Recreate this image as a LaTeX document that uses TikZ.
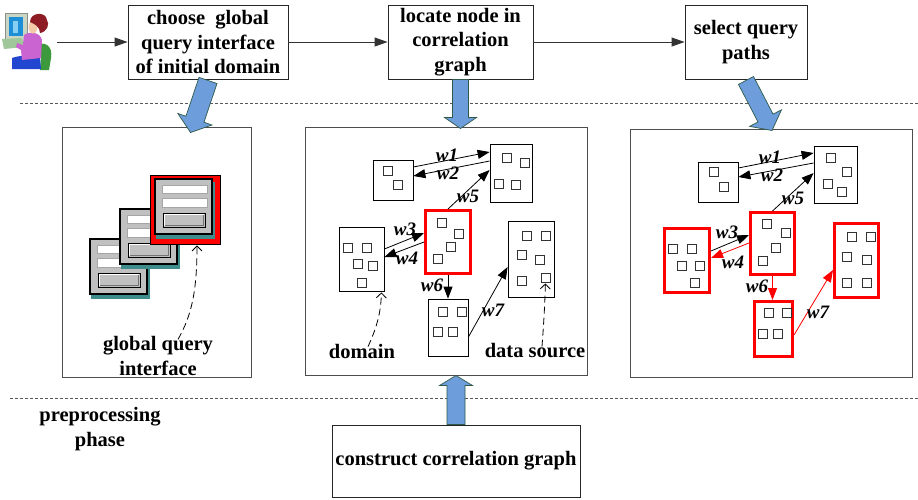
\documentclass[tikz,border=0pt]{standalone}
\usepackage{fontspec}
\setmainfont{Liberation Serif}
\usetikzlibrary{calc,arrows.meta}

\definecolor{blk}{HTML}{6E9DDB}
\definecolor{blkedge}{HTML}{2F5A4A}
\definecolor{frame}{HTML}{4D4D4D}
\definecolor{shadowteal}{HTML}{3F8C8C}
\definecolor{wingray}{HTML}{C0C0C0}
\definecolor{chairg}{HTML}{3C9A3C}
\definecolor{monbody}{HTML}{C9D6C4}
\definecolor{screenb}{HTML}{1E8FD6}
\definecolor{screenl}{HTML}{86CFF2}
\definecolor{deskg}{HTML}{9FC79A}
\definecolor{pantsb}{HTML}{2346D0}
\definecolor{shirtp}{HTML}{C964D0}
\definecolor{skin}{HTML}{F4CBA8}
\definecolor{hair}{HTML}{8E1C24}

\tikzset{
  txt/.style={font=\bfseries\fontsize{20.5}{24.5}\selectfont, align=center, inner sep=0pt},
  proc/.style={draw=black!85, line width=0.9pt, fill=white, txt},
  panel/.style={draw=frame, line width=1pt, fill=white},
  gnode/.style={draw=black, line width=0.8pt, inner sep=0pt},
  hot/.style={draw=red, line width=3pt, inner sep=0pt},
  sq/.style={draw=black!80, line width=0.7pt},
  edge/.style={line width=0.8pt, -{Triangle[length=12pt,width=9pt]}},
  redge/.style={edge, red},
  wlab/.style={font=\bfseries\itshape\fontsize{19}{22}\selectfont, inner sep=0pt},
  flow/.style={draw=black!80, line width=0.9pt, -{Triangle[length=13pt,width=9pt]}},
  sep/.style={draw=black!65, line width=0.8pt, dash pattern=on 3pt off 2pt},
  pointer/.style={line width=0.8pt, dash pattern=on 7pt off 4pt, -{Straight Barb[length=5pt,width=10pt]}},
  blockar/.style={fill=blk, draw=blkedge, line width=0.7pt},
}

% small square of a graph node, given by its top-left corner
\newcommand\sqbox[2]{\draw[sq] (#1,#2) rectangle ++(9,9);}

% block arrow: tail, tip, half shaft width, half head width, head length
\newcommand\blockarrow[5]{%
  \coordinate (bh) at ($(#2)!#5!(#1)$);
  \path[blockar] ($(#1)!#3!90:(#2)$) -- ($(bh)!#3!90:(#2)$) -- ($(bh)!#4!90:(#2)$)
    -- (#2) -- ($(bh)!#4!-90:(#2)$) -- ($(bh)!#3!-90:(#2)$) -- ($(#1)!#3!-90:(#2)$) -- cycle;}

% form window with shadow, given by its top-left corner
\newcommand\guiwin[2]{%
  \fill[shadowteal] (#1+1,#2+3) rectangle (#1+60,#2+60);
  \draw[fill=wingray, line width=1.2pt] (#1,#2) rectangle (#1+57,#2+55);
  \draw[fill=white, draw=black!35, line width=0.8pt] (#1+7,#2+6) rectangle (#1+52,#2+14);
  \draw[fill=white, draw=black!35, line width=0.8pt] (#1+7,#2+19) rectangle (#1+52,#2+28);
  \draw[fill=wingray, line width=0.8pt] (#1+8,#2+34) rectangle (#1+50,#2+48);
  \draw[white, line width=0.8pt] (#1+9.5,#2+46.5) -- (#1+9.5,#2+35.5) -- (#1+48.5,#2+35.5);
  \draw[black!55, line width=0.8pt] (#1+9.5,#2+46.5) -- (#1+48.5,#2+46.5) -- (#1+48.5,#2+35.5);}

\begin{document}
\begin{tikzpicture}[x=1pt,y=-1pt]
\useasboundingbox[fill=white] (0,0) rectangle (918,499);

% ---------- user at the computer ----------
\node[minimum width=52pt, minimum height=58pt, inner sep=0pt] (user) at (31,42) {};
\fill[chairg] (35,46) .. controls (45,40) and (53,46) .. (51,58) -- (49,70) -- (40,70) -- (41,58) .. controls (41,52) and (38,49) .. (35,46) -- cycle;
\fill[monbody] (5,13) rectangle (27,42);
\draw[black!45, line width=0.4pt] (5,13) rectangle (27,42);
\fill[screenb] (9,17) rectangle (23,36);
\fill[screenl] (13,21) rectangle (18,33);
\fill[deskg] (2,39) -- (22,38) -- (24,47) -- (4,49) -- cycle;
\fill[pantsb] (12,58) .. controls (20,55) and (32,55) .. (40,57) -- (41,69) -- (12,69) -- cycle;
\fill[shirtp] (24,35) .. controls (30,31) and (40,32) .. (42,40) -- (41,58) -- (22,60) -- (21,50) -- (16,47) -- (17,43) -- (23,45) -- cycle;
\fill[skin] (33,27) ellipse [x radius=4.5, y radius=6.5];
\fill[hair] (30,22) .. controls (30,12) and (46,11) .. (47,20) .. controls (50,24) and (47,32) .. (40,33) .. controls (40,27) and (35,24) .. (30,22) -- cycle;

% ---------- process steps ----------
\node[proc, minimum width=160pt, minimum height=74pt] (box1) at (208,42)
  {choose\ \ global\\query interface\\of initial domain};
\node[proc, minimum width=145pt, minimum height=74pt] (box2) at (460.5,42)
  {locate node in\\correlation\\graph};
\node[proc, minimum width=122pt, minimum height=74pt] (box3) at (746,42)
  {select query\\paths};
\node[proc, minimum width=248pt, minimum height=72pt] (build) at (456,461)
  {construct correlation graph};

\draw[flow] (user.east) -- (box1.west);
\draw[flow] (box1.east) -- (box2.west);
\draw[flow] (box2.east) -- (box3.west);

% phase separators
\draw[sep] (20,103) -- (918,103);
\draw[sep] (10,398) -- (918,398);

\node[txt] (phase) at (100,429) {preprocessing\\phase};

% ---------- panels ----------
\node[panel, minimum width=189pt, minimum height=250pt] (panel1) at (156.5,252) {};
\node[panel, minimum width=282pt, minimum height=248pt] (panel2) at (446,251) {};
\node[panel, minimum width=282pt, minimum height=248pt] (panel3) at (771,253) {};

% ---------- panel 1: global query interfaces ----------
\guiwin{90}{239}
\guiwin{120}{209}
\node[draw=black, fill=red, line width=0.8pt, minimum width=70pt, minimum height=69pt, inner sep=0pt] (gqiframe) at (185,209.5) {};
\guiwin{155}{179}
\node[txt] (gqilabel) at (158,356) {global query\\interface};
\draw[pointer] ($(gqilabel.north)+(20,3)$) .. controls (192,315) and (197,290) .. ($(gqiframe.south)+(12,1)$);

% ---------- panel 2: correlation graph ----------
\node[gnode, minimum width=40pt, minimum height=40pt] (A2) at (393,180) {};
\node[gnode, minimum width=42pt, minimum height=58pt] (B2) at (511,173) {};
\node[hot,   minimum width=45pt, minimum height=63pt] (C2) at (448,242) {};
\node[gnode, minimum width=45pt, minimum height=64pt] (D2) at (361.5,259) {};
\node[gnode, minimum width=40pt, minimum height=57pt] (E2) at (448,327.5) {};
\node[gnode, minimum width=46pt, minimum height=76pt] (F2) at (531,259) {};

\sqbox{383}{166}\sqbox{393}{180}
\sqbox{502}{153}\sqbox{520}{158}\sqbox{494}{179}\sqbox{511}{180}
\sqbox{437}{218}\sqbox{454}{229}\sqbox{446}{242}\sqbox{433}{254}
\sqbox{343}{243}\sqbox{362}{243}\sqbox{353}{259}\sqbox{368}{261}\sqbox{357}{278}
\sqbox{438}{307}\sqbox{457}{307}\sqbox{433}{327}\sqbox{448}{327}
\sqbox{522}{231}\sqbox{541}{231}\sqbox{517}{250}\sqbox{535}{255}\sqbox{517}{276}\sqbox{541}{273}

\draw[edge] ($(A2.east)+(0,-13)$) -- ($(B2.west)+(0,-21)$);
\draw[edge] ($(B2.west)+(0,-12)$) -- ($(A2.east)+(0,-4)$);
\draw[edge] (C2.north) -- ($(B2.west)+(0,-3)$);
\draw[edge] ($(D2.east)+(0,-10)$) -- ($(C2.west)+(0,-9)$);
\draw[edge] (C2.west) -- ($(D2.east)+(0,-2)$);
\draw[edge] (C2.south) -- (C2.south |- E2.north);
\draw[edge] ($(E2.east)+(0,9.5)$) -- ($(F2.west)+(0,8)$);

\node[wlab] (p2w1) at (447,155) {w1};
\node[wlab] (p2w2) at (448,173) {w2};
\node[wlab] (p2w5) at (468,196) {w5};
\node[wlab] (p2w3) at (405,229) {w3};
\node[wlab] (p2w4) at (407,258) {w4};
\node[wlab] (p2w6) at (432,285) {w6};
\node[wlab] (p2w7) at (493,310) {w7};

\node[txt] (dom) at (362,351) {domain};
\node[txt] (dsrc) at (535,351) {data source};
\draw[pointer] ($(dom.north)+(6,3)$) .. controls (378,325) and (381,310) .. ($(D2.south east)+(-3,1)$);
\draw[pointer] ($(dsrc.north)+(7,3)$) .. controls (544,320) and (545,300) .. ($(F2.south east)+(-9,-14)$);

% ---------- panel 3: selected query paths ----------
\node[gnode, minimum width=40pt, minimum height=40pt] (A3) at (718,182) {};
\node[gnode, minimum width=43pt, minimum height=57pt] (B3) at (835.5,174.5) {};
\node[hot,   minimum width=44pt, minimum height=62pt] (C3) at (772.5,243.5) {};
\node[hot,   minimum width=45pt, minimum height=64pt] (D3) at (687,260.5) {};
\node[hot,   minimum width=38pt, minimum height=55pt] (E3) at (773.5,329) {};
\node[hot,   minimum width=44pt, minimum height=74pt] (F3) at (856.5,260.5) {};

\sqbox{709}{167}\sqbox{719}{182}
\sqbox{826}{153}\sqbox{842}{167}\sqbox{823}{179}\sqbox{837}{187}
\sqbox{762}{219}\sqbox{781}{228}\sqbox{771}{243}\sqbox{758}{256}
\sqbox{668}{244}\sqbox{687}{244}\sqbox{677}{261}\sqbox{695}{261}\sqbox{690}{278}
\sqbox{764}{308}\sqbox{782}{308}\sqbox{758}{329}\sqbox{773}{329}
\sqbox{847}{232}\sqbox{866}{232}\sqbox{842}{252}\sqbox{862}{255}\sqbox{842}{278}\sqbox{862}{278}

\draw[edge] ($(A3.east)+(0,-14)$) -- ($(B3.west)+(0,-21.5)$);
\draw[edge] ($(B3.west)+(0,-11.5)$) -- ($(A3.east)+(0,-5)$);
\draw[edge] (C3.north) -- ($(B3.west)+(0,-1.5)$);
\draw[edge] ($(D3.east)+(0,-9.5)$) -- ($(C3.west)+(0,-8.5)$);
\draw[redge] ($(C3.west)+(0,-0.5)$) -- ($(D3.east)+(0,-2.5)$);
\draw[redge] (C3.south) -- (C3.south |- E3.north);
\draw[redge] ($(E3.east)+(0,6)$) -- ($(F3.west)+(0,9.5)$);

\node[wlab] (p3w1) at (770,157) {w1};
\node[wlab] (p3w2) at (772,175) {w2};
\node[wlab] (p3w5) at (793,198) {w5};
\node[wlab] (p3w3) at (727,232) {w3};
\node[wlab] (p3w4) at (733,262) {w4};
\node[wlab] (p3w6) at (757,286) {w6};
\node[wlab] (p3w7) at (818,312) {w7};

% ---------- block arrows between steps and panels ----------
\coordinate (tip1) at ($(panel1.north)+(34,6)$);
\coordinate (tip2) at ($(box2.south |- panel2.north)+(0,2)$);
\coordinate (tip3) at ($(panel3.north)+(1,2)$);
\coordinate (tip4) at (build.north |- panel2.south);
\blockarrow{$(box1.south)+(0,1)$}{tip1}{9.5pt}{18pt}{14pt}
\blockarrow{box2.south}{tip2}{8pt}{16pt}{11pt}
\blockarrow{$(box3.south)+(0,1)$}{tip3}{8.5pt}{18pt}{14pt}
\blockarrow{build.north}{tip4}{9pt}{16.5pt}{10pt}

\end{tikzpicture}
\end{document}
